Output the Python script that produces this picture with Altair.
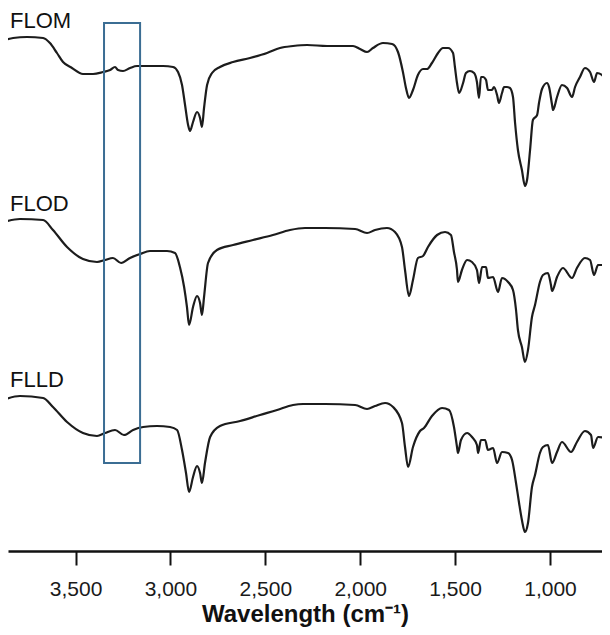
import altair as alt
import pandas as pd

# ---- FTIR spectra (wavenumber in cm-1, intensity in arbitrary units incl. vertical offset)
flom_wn = [3889, 3829, 3756, 3671, 3635, 3598, 3566, 3519, 3461, 3408, 3355, 3318, 3292, 3276, 3250, 3213,
           3176, 3123, 3039, 2986, 2960, 2939, 2923, 2907, 2897, 2881, 2860, 2844, 2834, 2823, 2807, 2781,
           2739, 2670, 2581, 2491, 2423, 2354, 2280, 2175, 2106, 2038, 2001, 1964, 1933, 1880, 1832, 1801,
           1775, 1759, 1743, 1722, 1696, 1669, 1648, 1622, 1590, 1564, 1537, 1511, 1501, 1490, 1479, 1458,
           1443, 1422, 1400, 1385, 1374, 1364, 1353, 1337, 1327, 1306, 1295, 1279, 1269, 1253, 1242, 1227,
           1211, 1195, 1184, 1169, 1148, 1132, 1121, 1105, 1090, 1068, 1058, 1042, 1016, 1005, 989, 984,
           963, 937, 910, 884, 868, 842, 816, 789, 768, 752, 726, 715, 700]
flom_int = [510, 513, 514, 513, 508, 498, 489, 483, 477, 477, 479, 481, 484, 481, 480, 483,
            485, 485, 485, 484, 479, 466, 446, 426, 420, 429, 439, 433, 424, 443, 466, 478,
            484, 489, 493, 498, 503, 505, 506, 505, 505, 505, 502, 499, 503, 508, 507, 499,
            479, 463, 453, 461, 476, 482, 482, 488, 498, 503, 503, 498, 484, 468, 458, 468,
            478, 480, 478, 469, 453, 474, 474, 471, 461, 461, 464, 456, 448, 458, 464, 464,
            463, 454, 428, 401, 381, 365, 371, 401, 431, 436, 448, 462, 468, 464, 446, 441,
            454, 466, 463, 454, 464, 474, 483, 479, 469, 478, 476, 474, 469]

flod_wn = [3882, 3793, 3671, 3619, 3545, 3461, 3387, 3345, 3303, 3260, 3213, 3160, 3108, 3018, 2976, 2950,
           2928, 2913, 2902, 2881, 2860, 2844, 2834, 2823, 2802, 2755, 2670, 2565, 2460, 2370, 2291, 2186,
           2027, 1964, 1922, 1859, 1817, 1780, 1764, 1743, 1722, 1696, 1669, 1643, 1595, 1553, 1522, 1506,
           1490, 1485, 1464, 1437, 1411, 1385, 1374, 1358, 1337, 1327, 1300, 1274, 1253, 1221, 1195, 1179,
           1169, 1148, 1132, 1116, 1095, 1079, 1053, 1037, 1011, 995, 989, 963, 932, 884, 858, 816,
           789, 768, 747, 721, 700]
flod_int = [329, 332, 331, 321, 304, 292, 289, 291, 293, 288, 293, 297, 300, 300, 298, 284,
            264, 244, 226, 244, 255, 248, 236, 254, 288, 301, 306, 311, 316, 321, 323, 323,
            322, 318, 321, 323, 319, 304, 281, 255, 271, 293, 295, 304, 316, 319, 316, 299,
            281, 269, 281, 291, 289, 281, 268, 284, 284, 273, 274, 259, 273, 269, 261, 241,
            221, 204, 189, 201, 234, 246, 269, 276, 278, 266, 260, 274, 283, 273, 283, 293,
            291, 276, 286, 286, 283]

flld_wn = [3882, 3793, 3671, 3619, 3545, 3461, 3387, 3345, 3292, 3245, 3197, 3144, 3071, 3002, 2965, 2939,
           2918, 2902, 2881, 2860, 2844, 2834, 2818, 2791, 2739, 2633, 2528, 2438, 2354, 2301, 2186, 2027,
           1964, 1922, 1869, 1827, 1780, 1764, 1748, 1722, 1685, 1664, 1622, 1569, 1532, 1506, 1490, 1485,
           1469, 1437, 1411, 1385, 1379, 1364, 1342, 1327, 1300, 1279, 1253, 1221, 1200, 1179, 1163, 1148,
           1132, 1116, 1095, 1079, 1053, 1037, 1011, 989, 963, 937, 889, 858, 816, 784, 773, 747, 700]
flld_int = [151, 155, 153, 144, 129, 118, 115, 118, 121, 116, 121, 124, 125, 124, 121, 101,
            78, 59, 74, 85, 78, 68, 88, 114, 125, 130, 136, 141, 146, 147, 147, 146,
            142, 145, 148, 144, 128, 104, 84, 104, 120, 123, 135, 143, 141, 124, 104, 98,
            111, 118, 114, 106, 98, 111, 111, 101, 103, 88, 99, 98, 91, 68, 48, 31,
            19, 28, 64, 76, 98, 104, 106, 88, 99, 109, 99, 109, 120, 116, 103, 114, 113]

sample_names = ["FLOM", "FLOD", "FLLD"]
label_wn = [3845, 3845, 3845]
label_int = [523, 340, 164]

box_wn = [3350]
box_wn2 = [3160]
box_lo = [88]
box_hi = [528]

tick_values = [3500, 3000, 2500, 2000, 1500, 1000]

rows = []
for name, wn, vals in zip(sample_names, [flom_wn, flod_wn, flld_wn], [flom_int, flod_int, flld_int]):
    for w, v in zip(wn, vals):
        rows.append({"sample": name, "wavenumber": w, "intensity": v})
spectra = pd.DataFrame(rows)
labels = pd.DataFrame({"sample": sample_names, "wavenumber": label_wn, "intensity": label_int})
box = pd.DataFrame({"wavenumber": box_wn, "wavenumber2": box_wn2, "intensity": box_lo, "intensity2": box_hi})

FONT = "Liberation Sans, Arial, sans-serif"
TITLE = "Wavelength (cm\u207b\u00b9)"
xscale = alt.Scale(domain=[726, 3856], reverse=True, nice=False, zero=False)
yscale = alt.Scale(domain=[0, 543], nice=False, zero=False)
xaxis = alt.Axis(
    values=tick_values, format=",d", title=TITLE,
    domainColor="#111111", domainWidth=2.6, tickColor="#111111", tickWidth=2, tickSize=14,
    labelFont=FONT, labelFontSize=21, labelColor="#1a1a1a", labelPadding=13,
    labelFlush=False, labelOverlap=False, grid=False,
    titleFont=FONT, titleFontSize=24, titleFontWeight="bold", titleColor="#111111",
    titleBaseline="alphabetic", titleY=70)

lines = alt.Chart(spectra).mark_line(
    color="#1c1c1c", strokeWidth=2.2, interpolate="monotone", clip=True
).encode(
    x=alt.X("wavenumber:Q", scale=xscale, axis=xaxis),
    y=alt.Y("intensity:Q", scale=yscale, axis=None),
    detail="sample:N",
)

texts = alt.Chart(labels).mark_text(
    align="left", baseline="alphabetic", font=FONT, fontSize=22, color="#111111"
).encode(
    x=alt.X("wavenumber:Q", scale=xscale, axis=xaxis),
    y=alt.Y("intensity:Q", scale=yscale, axis=None),
    text="sample:N",
)

rect = alt.Chart(box).mark_rect(
    filled=False, stroke="#3b6d93", strokeWidth=2
).encode(
    x=alt.X("wavenumber:Q", scale=xscale, axis=xaxis),
    x2="wavenumber2:Q",
    y=alt.Y("intensity:Q", scale=yscale, axis=None),
    y2="intensity2:Q",
)

chart = alt.layer(lines, rect, texts).properties(
    width=594, height=543,
    autosize=alt.AutoSizeParams(type="none"),
    padding={"left": 0, "top": 0, "right": 0, "bottom": 76},
).configure_view(stroke=None)

chart.save("out.html", embed_options={"renderer": "svg", "actions": False})
